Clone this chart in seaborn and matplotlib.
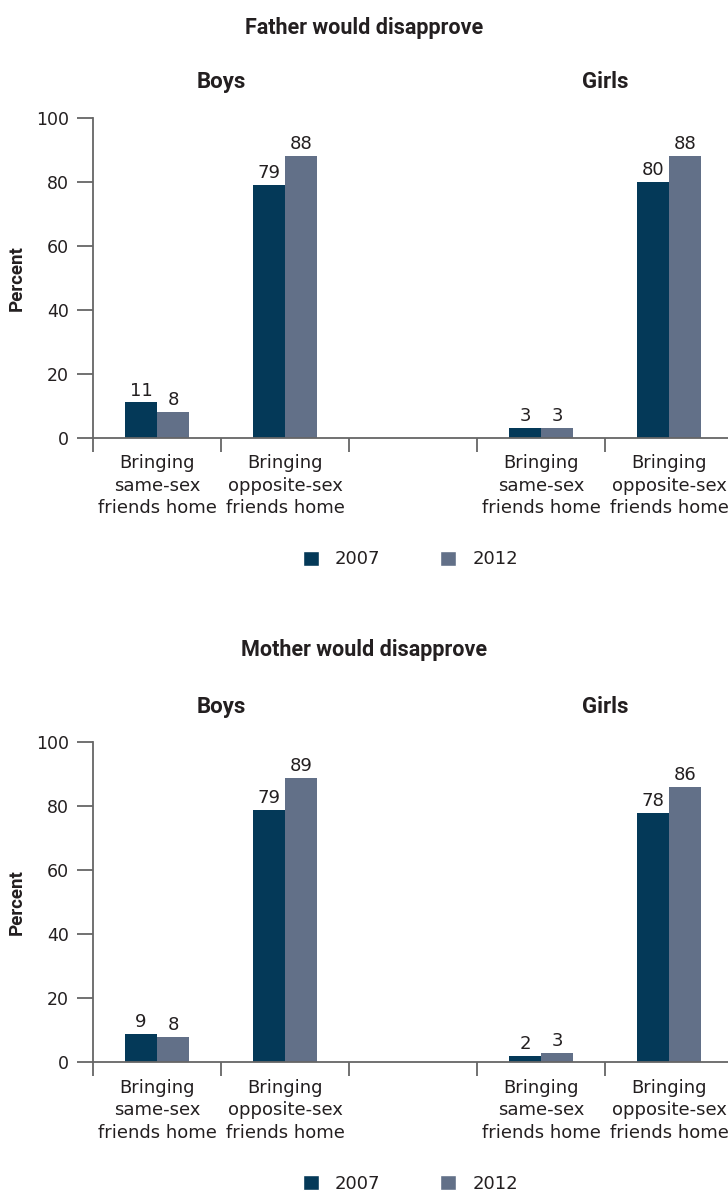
import matplotlib
matplotlib.use("Agg")
import matplotlib.pyplot as plt
import matplotlib.transforms as mtransforms
from matplotlib.patches import Patch
import seaborn as sns
import pandas as pd

# ---- data ----
slots = ["Boys same", "Boys opposite", "gap", "Girls same", "Girls opposite"]
data_slots = ["Boys same", "Boys opposite", "Girls same", "Girls opposite"]
tick_labels = ["Bringing\nsame-sex\nfriends home", "Bringing\nopposite-sex\nfriends home",
               "Bringing\nsame-sex\nfriends home", "Bringing\nopposite-sex\nfriends home"]
years = ["2007", "2012"]
father_2007 = [11, 79, 3, 80]
father_2012 = [8, 88, 3, 88]
mother_2007 = [9, 79, 2, 78]
mother_2012 = [8, 89, 3, 86]
panel_titles = ["Father would disapprove", "Mother would disapprove"]
group_titles = ["Boys", "Girls"]
colors = ["#043958", "#627088"]

sns.set_theme(style="white")
plt.rcParams["font.family"] = ["DejaVu Sans"]
bold_family = ["Roboto", "DejaVu Sans"]

fig = plt.figure(figsize=(7.28, 11.93), dpi=100)
H = 1193.0
W = 728.0
ax_left = 93 / W
ax_width = 640 / W
ax_h = 320 / H
axes_bottoms = [1 - 437.7 / H, 1 - 1062.3 / H]
title_ys = [1 - 28 / H, 1 - 650 / H]

spine_col = "#666666"
text_col = "#231f20"

for p, (v07, v12) in enumerate([(father_2007, father_2012), (mother_2007, mother_2012)]):
    df = pd.DataFrame({
        "slot": data_slots * 2,
        "year": [years[0]] * 4 + [years[1]] * 4,
        "value": v07 + v12,
    })
    ax = fig.add_axes([ax_left, axes_bottoms[p], ax_width, ax_h])
    sns.barplot(data=df, x="slot", y="value", hue="year", order=slots,
                hue_order=years, palette=colors, width=0.5, saturation=1,
                linewidth=0, ax=ax, legend=False)
    for cont in ax.containers:
        ax.bar_label(cont, padding=2, fontsize=13, color=text_col)
    ax.set_xlim(-0.5, 4.5)
    ax.set_ylim(0, 100)
    ax.set_yticks(range(0, 101, 20))
    ax.tick_params(axis="y", direction="out", length=11.5, width=1.3,
                   color=spine_col, labelsize=12.5, labelcolor=text_col, pad=6, left=True)
    ax.set_xticks([0, 1, 3, 4])
    ax.set_xticklabels(tick_labels, fontsize=13, color=text_col, linespacing=1.32)
    ax.set_xticks([-0.5, 0.5, 1.5, 2.5, 3.5, 4.5], minor=True)
    ax.tick_params(axis="x", which="major", length=0, pad=12)
    ax.tick_params(axis="x", which="minor", direction="out", length=10,
                   width=1.3, color=spine_col, bottom=True)
    for s in ["top", "right"]:
        ax.spines[s].set_visible(False)
    for s in ["left", "bottom"]:
        ax.spines[s].set_color(spine_col)
        ax.spines[s].set_linewidth(1.3)
    ax.set_xlabel("")
    ax.set_ylabel("")
    ax.text(-(93 - 17) / 640, 0.5, "Percent", transform=ax.transAxes, rotation=90,
            ha="center", va="center", fontsize=13.5, fontweight="bold", color=text_col,
            family=bold_family)
    ax.grid(False)

    trans = mtransforms.blended_transform_factory(ax.transData, ax.transAxes)
    ax.text(0.5, 1.11, group_titles[0], transform=trans, ha="center", va="center",
            fontsize=16, fontweight="bold", color=text_col, family=bold_family)
    ax.text(3.5, 1.11, group_titles[1], transform=trans, ha="center", va="center",
            fontsize=16, fontweight="bold", color=text_col, family=bold_family)
    fig.text(0.5, title_ys[p], panel_titles[p], ha="center", va="center",
             fontsize=15.5, fontweight="bold", color=text_col, family=bold_family)

    handles = [Patch(facecolor=colors[0]), Patch(facecolor=colors[1])]
    ax.legend(handles, years, loc="center", bbox_to_anchor=(0.496, -0.38),
              ncol=2, frameon=False, fontsize=13, handlelength=0.9,
              handleheight=0.9, handletextpad=0.9, columnspacing=3.3,
              labelcolor=text_col)

fig.savefig("out.png", dpi=100)
